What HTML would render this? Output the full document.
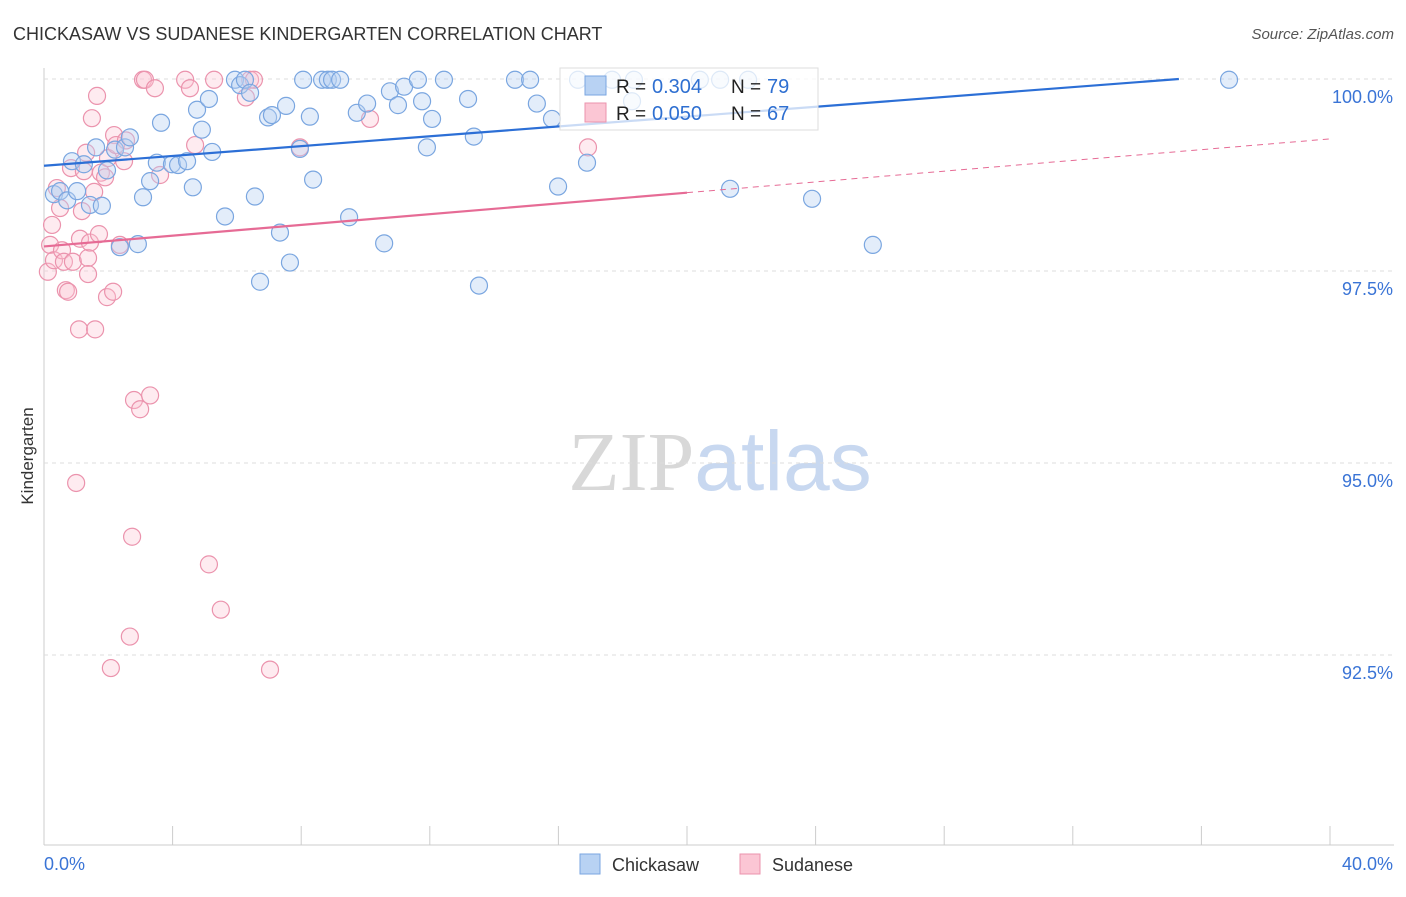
<!DOCTYPE html>
<html><head><meta charset="utf-8"><style>
body{margin:0;background:#fff;font-family:"Liberation Sans",sans-serif;}
svg text{font-family:"Liberation Sans",sans-serif;}
</style></head><body>
<svg id="chart" width="1406" height="892" xmlns="http://www.w3.org/2000/svg">
<text x="13" y="40" font-size="18" fill="#333">CHICKASAW VS SUDANESE KINDERGARTEN CORRELATION CHART</text>
<text x="1394" y="39" font-size="15" fill="#555" text-anchor="end" font-style="italic">Source: ZipAtlas.com</text>
<text x="720" y="490" font-size="84" text-anchor="middle"><tspan fill="#d8d8d8" font-family="Liberation Serif">ZIP</tspan><tspan fill="#c8d8f0">atlas</tspan></text>
<text transform="translate(33,456) rotate(-90)" font-size="17" fill="#333" text-anchor="middle">Kindergarten</text>
<g id="grid"></g>
<g id="pts"></g>
<g id="lines"></g>
<g>
<rect x="560" y="68" width="258" height="62" fill="#fff" fill-opacity="0.75" stroke="#ddd"/>
<rect x="585" y="76" width="21" height="19" fill="#b8d2f3" stroke="#7aa6e0"/>
<rect x="585" y="103" width="21" height="19" fill="#fbc6d4" stroke="#eb93ad"/>
<text x="616" y="93" font-size="19" fill="#222">R =</text>
<text x="652" y="93" font-size="20" fill="#2e6fd1">0.304</text>
<text x="731" y="93" font-size="19" fill="#222">N =</text>
<text x="767" y="93" font-size="20" fill="#2e6fd1">79</text>
<text x="616" y="120" font-size="19" fill="#222">R =</text>
<text x="652" y="120" font-size="20" fill="#2e6fd1">0.050</text>
<text x="731" y="120" font-size="19" fill="#222">N =</text>
<text x="767" y="120" font-size="20" fill="#2e6fd1">67</text>
</g>
<g>
<rect x="580" y="854" width="20" height="20" fill="#b8d2f3" stroke="#7aa6e0"/>
<text x="612" y="871" font-size="18" fill="#333">Chickasaw</text>
<rect x="740" y="854" width="20" height="20" fill="#fbc6d4" stroke="#eb93ad"/>
<text x="772" y="871" font-size="18" fill="#333">Sudanese</text>
</g>
</svg>
<script>
const xTicks=[0,4,8,12,16,20,24,28,32,36,40];
const yTicks=[100,97.5,95,92.5];
const yTickLabels=["100.0%","97.5%","95.0%","92.5%"];
const blueX=[0.31,0.5,0.72,0.87,1.03,1.24,1.43,1.8,1.62,1.96,2.21,2.52,2.67,2.36,2.92,3.08,3.3,3.51,3.64,3.98,4.17,4.45,4.63,4.76,4.91,5.13,5.23,5.63,5.94,6.1,6.25,6.41,6.56,6.72,6.97,7.09,7.34,7.53,7.65,7.96,8.06,8.27,8.37,8.65,8.83,8.96,9.21,9.49,9.73,10.05,10.58,10.76,11.01,11.2,11.63,11.76,11.91,12.07,12.44,13.19,13.37,13.53,14.65,15.12,15.33,15.8,15.99,16.61,16.89,17.67,18.29,18.35,20.4,21.03,21.34,21.9,23.89,25.78,36.86];
const blueY=[98.5,98.54,98.42,98.93,98.54,98.89,98.36,98.35,99.11,98.81,99.08,99.11,99.24,97.81,97.85,98.46,98.67,98.91,99.43,98.89,98.88,98.93,98.59,99.6,99.34,99.74,99.05,98.21,99.99,99.92,99.99,99.82,98.47,97.36,99.5,99.53,98.0,99.65,97.61,99.09,99.99,99.51,98.69,99.99,99.99,99.99,99.99,98.2,99.56,99.68,97.86,99.84,99.66,99.9,99.99,99.71,99.11,99.48,99.99,99.74,99.25,97.31,99.99,99.99,99.68,99.48,98.6,99.99,98.91,99.99,99.71,99.99,99.99,99.99,98.57,99.99,98.44,97.84,99.99];
const pinkX=[0.12,0.19,0.25,0.31,0.4,0.5,0.56,0.62,0.68,0.75,0.84,0.9,1.0,1.09,1.12,1.18,1.24,1.31,1.37,1.37,1.43,1.49,1.56,1.59,1.65,1.71,1.77,1.9,1.96,1.99,2.08,2.15,2.18,2.24,2.36,2.49,2.55,2.67,2.74,2.8,2.99,3.08,3.14,3.3,3.45,3.61,4.39,4.54,4.7,5.13,5.29,5.5,6.28,6.41,6.53,7.03,7.96,10.14,16.92];
const pinkY=[97.49,97.84,98.1,97.64,98.58,98.32,97.77,97.62,97.25,97.23,98.84,97.62,94.74,96.74,97.92,98.28,98.8,99.04,97.67,97.46,97.87,99.49,98.53,96.74,99.78,97.98,98.78,98.72,97.16,98.97,92.33,97.23,99.27,99.14,97.84,98.93,99.2,92.74,94.04,95.82,95.7,99.99,99.99,95.88,99.88,98.75,99.99,99.88,99.14,93.68,99.99,93.09,99.76,99.99,99.99,92.31,99.11,99.48,99.11];
const blueLine=[0,98.87,35.3,100];
const pinkLine=[0,97.82,20,98.52,40,99.22];
const NS="http://www.w3.org/2000/svg";
const X=v=>44+v*32.15, Y=v=>79+(100-v)*76.8;
function mk(t,a,p){const e=document.createElementNS(NS,t);for(const k in a)e.setAttribute(k,a[k]);p.appendChild(e);return e;}
const grid=document.getElementById('grid'),pts=document.getElementById('pts'),lines=document.getElementById('lines');
let ax=mk('line',{x1:44,y1:68,x2:44,y2:845,stroke:'#ccc'},grid);


let bx=mk('line',{x1:44,y1:845,x2:1394,y2:845,stroke:'#ccc'},grid);


yTicks.forEach((v,i)=>{
 let g=mk('line',{x1:44,x2:1394,y1:Y(v),y2:Y(v),stroke:'#ddd','stroke-dasharray':'4,4'},grid);
 
 
 let t=mk('text',{x:1393,y:Y(v)+24,'font-size':18,fill:'#3a74d6','text-anchor':'end'},grid);
 t.textContent=yTickLabels[i];
 
 
});
xTicks.forEach(v=>{
 let l=mk('line',{x1:X(v),x2:X(v),y1:826,y2:845,stroke:'#ccc'},grid);
 
 
});
let t0=mk('text',{x:44,y:870,'font-size':18,fill:'#3a74d6'},grid);t0.textContent='0.0%';


let t1=mk('text',{x:1393,y:870,'font-size':18,fill:'#3a74d6','text-anchor':'end'},grid);t1.textContent='40.0%';


pinkX.forEach((v,i)=>{
 let c=mk('circle',{cx:X(v),cy:Y(pinkY[i]),r:8.5,fill:'#fbc6d4','fill-opacity':0.35,stroke:'#eb93ad','stroke-width':1.2},pts);
 
 
});
blueX.forEach((v,i)=>{
 let c=mk('circle',{cx:X(v),cy:Y(blueY[i]),r:8.5,fill:'#b8d2f3','fill-opacity':0.4,stroke:'#7aa6e0','stroke-width':1.2},pts);
 
 
});
let bl=mk('line',{x1:X(blueLine[0]),y1:Y(blueLine[1]),x2:X(blueLine[2]),y2:Y(blueLine[3]),stroke:'#2c6fd6','stroke-width':2.2},lines);


let pl=mk('line',{x1:X(pinkLine[0]),y1:Y(pinkLine[1]),x2:X(pinkLine[2]),y2:Y(pinkLine[3]),stroke:'#e66b95','stroke-width':2.2},lines);


let pd=mk('line',{x1:X(pinkLine[2]),y1:Y(pinkLine[3]),x2:X(pinkLine[4]),y2:Y(pinkLine[5]),stroke:'#e66b95','stroke-width':1,'stroke-dasharray':'6,5'},lines);


</script>
</body></html>
